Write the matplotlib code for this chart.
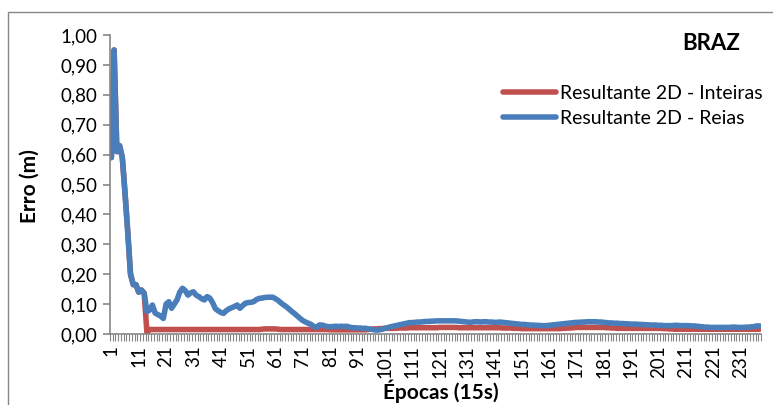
import numpy as np
import matplotlib
matplotlib.use('Agg')
import matplotlib.pyplot as plt
from matplotlib.patches import Rectangle
from matplotlib.ticker import FuncFormatter

# 2D resultant error per epoch (15 s), station BRAZ
inteiras = [
    0.59, 0.95, 0.61, 0.63, 0.59, 0.47, 0.34, 0.20, 0.165, 0.165,
    0.14, 0.147, 0.136, 0.005, 0.015, 0.015, 0.015, 0.015, 0.015, 0.015,
    0.015, 0.015, 0.015, 0.015, 0.015, 0.015, 0.015, 0.015, 0.015, 0.015,
    0.015, 0.015, 0.015, 0.015, 0.015, 0.015, 0.015, 0.015, 0.015, 0.015,
    0.015, 0.015, 0.015, 0.015, 0.015, 0.015, 0.015, 0.015, 0.015, 0.015,
    0.015, 0.015, 0.015, 0.015, 0.015, 0.016, 0.017, 0.017, 0.017, 0.017,
    0.017, 0.016, 0.015, 0.015, 0.015, 0.015, 0.015, 0.015, 0.015, 0.015,
    0.015, 0.015, 0.015, 0.015, 0.015, 0.015, 0.015, 0.015, 0.015, 0.015,
    0.014, 0.014, 0.014, 0.014, 0.014, 0.014, 0.014, 0.014, 0.014, 0.014,
    0.014, 0.014, 0.014, 0.014, 0.015, 0.016, 0.017, 0.017, 0.018, 0.018,
    0.019, 0.019, 0.019, 0.019, 0.019, 0.020, 0.020, 0.020, 0.020, 0.021,
    0.021, 0.021, 0.021, 0.021, 0.021, 0.021, 0.021, 0.021, 0.021, 0.021,
    0.022, 0.022, 0.022, 0.022, 0.022, 0.022, 0.022, 0.021, 0.021, 0.021,
    0.021, 0.021, 0.021, 0.021, 0.021, 0.021, 0.021, 0.021, 0.021, 0.021,
    0.021, 0.021, 0.021, 0.020, 0.020, 0.020, 0.020, 0.019, 0.019, 0.019,
    0.018, 0.018, 0.018, 0.018, 0.018, 0.018, 0.018, 0.018, 0.018, 0.018,
    0.018, 0.018, 0.018, 0.018, 0.018, 0.019, 0.019, 0.020, 0.020, 0.021,
    0.022, 0.022, 0.022, 0.022, 0.022, 0.022, 0.022, 0.022, 0.022, 0.022,
    0.022, 0.021, 0.021, 0.020, 0.020, 0.019, 0.019, 0.019, 0.019, 0.019,
    0.019, 0.019, 0.019, 0.019, 0.019, 0.019, 0.019, 0.019, 0.019, 0.019,
    0.019, 0.019, 0.018, 0.018, 0.017, 0.017, 0.016, 0.016, 0.016, 0.016,
    0.016, 0.016, 0.016, 0.016, 0.016, 0.016, 0.016, 0.016, 0.016, 0.016,
    0.016, 0.016, 0.016, 0.016, 0.016, 0.016, 0.016, 0.016, 0.016, 0.016,
    0.016, 0.016, 0.016, 0.016, 0.016, 0.016, 0.016, 0.016,
]

reais = [
    0.59, 0.95, 0.61, 0.63, 0.59, 0.47, 0.34, 0.20, 0.165, 0.165,
    0.14, 0.147, 0.136, 0.075, 0.08, 0.097, 0.07, 0.065, 0.06, 0.052,
    0.10, 0.108, 0.086, 0.10, 0.114, 0.14, 0.153, 0.145, 0.13, 0.138,
    0.141, 0.13, 0.125, 0.118, 0.114, 0.125, 0.12, 0.105, 0.085, 0.078,
    0.072, 0.069, 0.078, 0.084, 0.088, 0.092, 0.097, 0.086, 0.095, 0.103,
    0.105, 0.106, 0.108, 0.115, 0.119, 0.12, 0.122, 0.123, 0.123, 0.123,
    0.118, 0.112, 0.104, 0.097, 0.091, 0.083, 0.075, 0.068, 0.06, 0.052,
    0.045, 0.04, 0.036, 0.032, 0.025, 0.022, 0.03, 0.03, 0.027, 0.025,
    0.024, 0.025, 0.026, 0.025, 0.026, 0.025, 0.026, 0.023, 0.021, 0.021,
    0.02, 0.02, 0.019, 0.019, 0.017, 0.016, 0.014, 0.013, 0.014, 0.016,
    0.019, 0.021, 0.024, 0.026, 0.028, 0.03, 0.032, 0.034, 0.036, 0.038,
    0.038, 0.039, 0.04, 0.04, 0.041, 0.042, 0.042, 0.043, 0.043, 0.044,
    0.044, 0.044, 0.044, 0.044, 0.044, 0.044, 0.044, 0.043, 0.042, 0.041,
    0.04, 0.039, 0.04, 0.041, 0.041, 0.04, 0.041, 0.041, 0.04, 0.04,
    0.039, 0.039, 0.04, 0.039, 0.038, 0.037, 0.036, 0.035, 0.034, 0.033,
    0.032, 0.032, 0.031, 0.03, 0.03, 0.029, 0.029, 0.028, 0.028, 0.028,
    0.029, 0.03, 0.031, 0.032, 0.033, 0.034, 0.035, 0.036, 0.037, 0.038,
    0.039, 0.039, 0.04, 0.04, 0.041, 0.041, 0.041, 0.041, 0.04, 0.04,
    0.039, 0.038, 0.037, 0.037, 0.036, 0.036, 0.035, 0.035, 0.034, 0.034,
    0.033, 0.033, 0.033, 0.032, 0.032, 0.031, 0.031, 0.03, 0.03, 0.03,
    0.029, 0.029, 0.028, 0.028, 0.028, 0.028, 0.029, 0.029, 0.028, 0.028,
    0.028, 0.028, 0.027, 0.027, 0.026, 0.025, 0.024, 0.023, 0.023, 0.022,
    0.022, 0.022, 0.022, 0.022, 0.022, 0.022, 0.022, 0.023, 0.023, 0.022,
    0.022, 0.022, 0.023, 0.023, 0.024, 0.025, 0.027, 0.027,
]

epocas = np.arange(1, len(reais) + 1)
tick_epocas = epocas[::10]
tick_labels = [str(e) for e in tick_epocas]
y_ticks = [0.0, 0.1, 0.2, 0.3, 0.4, 0.5, 0.6, 0.7, 0.8, 0.9, 1.0]

plt.rcParams['font.family'] = ['Lato', 'DejaVu Sans']

W, H = 773, 405
fig = plt.figure(figsize=(W / 100, H / 100), dpi=100)
ax = fig.add_axes([110 / W, 1 - 334 / H, (761 - 110) / W, (334 - 35) / H])

red = '#C0504D'
blue = '#4A7EBB'
ax.plot(epocas, inteiras, color=red, lw=4, solid_capstyle='round',
        solid_joinstyle='round', label='Resultante 2D - Inteiras')
ax.plot(epocas, reais, color=blue, lw=4, solid_capstyle='round',
        solid_joinstyle='round', label='Resultante 2D - Reias')

ax.set_xlim(0.5, len(epocas) + 0.5)
ax.set_ylim(0, 1.0)

# axes look like the excel chart: only left and bottom, gray
for s in ['top', 'right']:
    ax.spines[s].set_visible(False)
for s in ['left', 'bottom']:
    ax.spines[s].set_color('#868686')
    ax.spines[s].set_linewidth(1.2)

ax.set_yticks(y_ticks)
ax.yaxis.set_major_formatter(FuncFormatter(lambda v, p: f'{v:.2f}'.replace('.', ',')))
ax.tick_params(axis='y', length=5, width=1.2, color='#868686', labelsize=13.5, pad=4)

ax.set_xticks(tick_epocas)
ax.set_xticklabels(tick_labels, rotation=90)
ax.set_xticks(np.arange(0.5, len(epocas) + 1, 1), minor=True)
ax.tick_params(axis='x', which='major', length=0, labelsize=13.5, pad=8)
ax.tick_params(axis='x', which='minor', length=5, width=0.8, color='#868686')

fig.text(30 / W, 1 - 186 / H, 'Erro (m)', rotation=90, fontsize=15,
         fontweight='bold', ha='center', va='center')
fig.text(441 / W, 1 - 391 / H, 'Épocas (15s)', fontsize=15,
         fontweight='bold', ha='center', va='center')
fig.text(711 / W, 1 - 43 / H, 'BRAZ', fontsize=16, fontweight='bold',
         ha='center', va='center')

ax.legend(loc='upper left', bbox_to_anchor=(503 / W, 1 - 85 / H),
          bbox_transform=fig.transFigure, frameon=False, fontsize=14,
          handlelength=2.7, handletextpad=0.25, labelspacing=0.4,
          borderpad=0, borderaxespad=0)

# chart area border (cut off at right and bottom in the original)
fig.add_artist(Rectangle((8 / W, -0.1), 1.2, 1 - 12 / H + 0.1,
                         transform=fig.transFigure, fill=False,
                         edgecolor='#868686', lw=1))

fig.savefig('out.png', dpi=100)
